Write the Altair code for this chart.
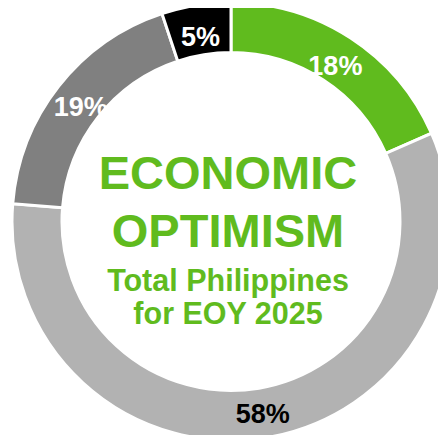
import altair as alt
import pandas as pd

categories = ["Optimistic", "Neutral", "Pessimistic", "Don't know"]
values = [18.4, 57.9, 18.6, 5.1]
labels = ["18%", "58%", "19%", "5%"]
slice_colors = ["#60BB1E", "#B2B2B2", "#808080", "#000000"]
label_colors = ["#FFFFFF", "#000000", "#FFFFFF", "#FFFFFF"]
center_lines = ["ECONOMIC", "OPTIMISM", "Total Philippines", "for EOY 2025"]

df = pd.DataFrame({
    "cat": categories,
    "value": values,
    "label": labels,
    "tcolor": label_colors,
    "idx": list(range(len(categories))),
})

CX, CY = 223, 213.5

base = alt.Chart(df).encode(
    theta=alt.Theta("value:Q", stack=True),
    order=alt.Order("idx:Q"),
)

arcs = base.mark_arc(outerRadius=219, innerRadius=169, stroke="white", strokeWidth=3).encode(
    color=alt.Color("cat:N", scale=alt.Scale(domain=categories, range=slice_colors), legend=None),
    x=alt.value(CX), y=alt.value(CY),
)

texts = base.mark_text(radius=191, fontSize=27, fontWeight="bold", font="Liberation Sans",
                       baseline="middle", align="center", dy=5).encode(
    text="label:N",
    color=alt.Color("tcolor:N", scale=None),
    x=alt.value(CX), y=alt.value(CY),
)

center_df = pd.DataFrame({"line": center_lines})
center_y = [167, 225, 274, 306.5]
center_size = [47, 47, 30.5, 30.5]
center_layers = []
for i, (yy, fs) in enumerate(zip(center_y, center_size)):
    center_layers.append(
        alt.Chart(center_df).transform_filter(alt.datum.line == center_lines[i]).mark_text(
            fontSize=fs, fontWeight="bold", font="Liberation Sans", color="#60BB1E",
            baseline="middle", align="center",
        ).encode(text="line:N", x=alt.value(220), y=alt.value(yy))
    )

chart = alt.layer(arcs, texts, *center_layers).properties(
    width=430, height=427, padding=0, autosize=alt.AutoSizeParams(type="none")
).configure_view(strokeWidth=0)

chart.save("out.html", embed_options={"renderer": "svg", "actions": False})
